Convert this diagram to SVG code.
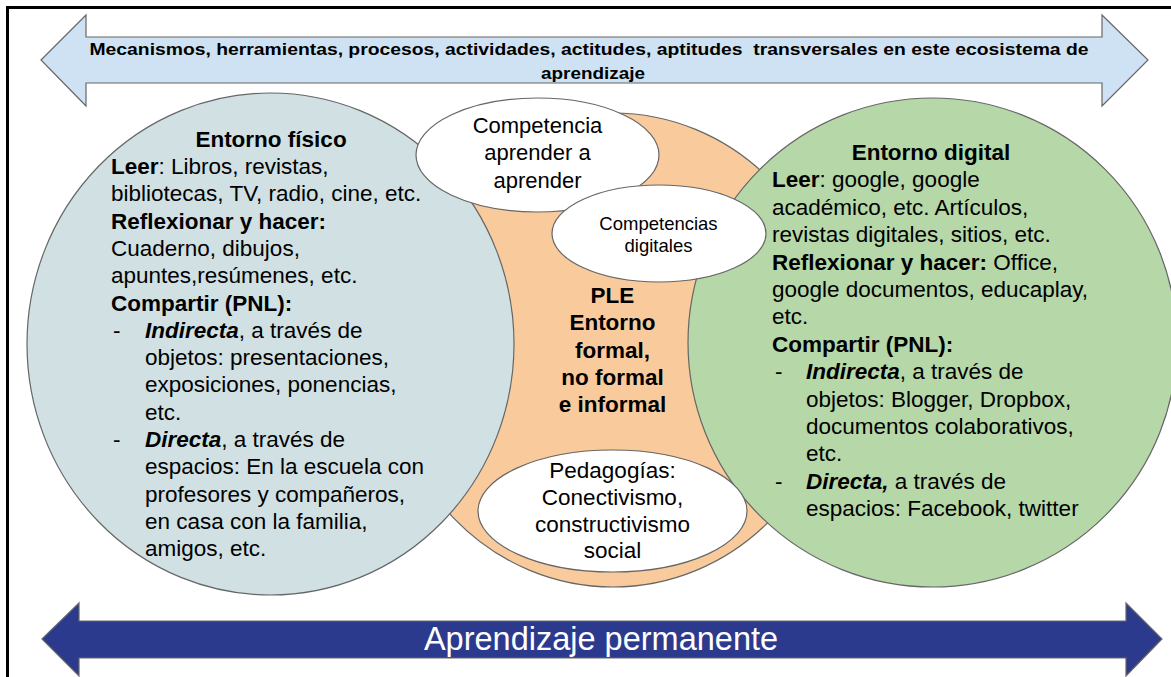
<svg xmlns="http://www.w3.org/2000/svg" width="1171" height="677" viewBox="0 0 1171 677">
<style>
.t{font-family:"Liberation Sans",Arial,sans-serif;font-size:22.5px;fill:#000}
.b{font-weight:bold}
.bi{font-weight:bold;font-style:italic}
.c{text-anchor:middle}
.sh{stroke:#666;stroke-width:1.2}
</style>
<rect width="1171" height="677" fill="#fff"/>
<path d="M7.5,677 V7.5 H1171" fill="none" stroke="#000" stroke-width="3"/>
<g id="top-arrow">
<polygon class="sh" fill="#cfe2f3" points="41,60 86,15 86,37 1102,37 1102,15 1148,60 1102,106 1102,83 86,83 86,106"/>
<text class="t b c" style="font-size:17px;white-space:pre" x="589" y="55" textLength="999" lengthAdjust="spacingAndGlyphs">Mecanismos, herramientas, procesos, actividades, actitudes, aptitudes  transversales en este ecosistema de</text>
<text class="t b c" style="font-size:17px" x="593" y="79" textLength="104" lengthAdjust="spacingAndGlyphs">aprendizaje</text>
</g>
<g id="ple">
<ellipse class="sh" fill="#f9cb9c" cx="613" cy="350" rx="226" ry="237"/>
</g>
<g id="entorno-fisico">
<ellipse class="sh" fill="#d0e0e3" cx="270.5" cy="344" rx="243.5" ry="251"/>
<text class="t b c" x="271" y="146.7">Entorno físico</text>
<text class="t" x="111" y="174"><tspan class="b">Leer</tspan>: Libros, revistas,</text>
<text class="t" x="111" y="201.3">bibliotecas, TV, radio, cine, etc.</text>
<text class="t b" x="111" y="228.6">Reflexionar y hacer:</text>
<text class="t" x="111" y="255.9">Cuaderno, dibujos,</text>
<text class="t" x="111" y="283.2">apuntes,resúmenes, etc.</text>
<text class="t b" x="111" y="310.5">Compartir (PNL):</text>
<text class="t" x="113" y="337.8">-</text>
<text class="t" x="145" y="337.8"><tspan class="bi">Indirecta</tspan>, a través de</text>
<text class="t" x="145" y="365.1">objetos: presentaciones,</text>
<text class="t" x="145" y="392.4">exposiciones, ponencias,</text>
<text class="t" x="145" y="419.7">etc.</text>
<text class="t" x="113" y="447">-</text>
<text class="t" x="145" y="447"><tspan class="bi">Directa</tspan>, a través de</text>
<text class="t" x="145" y="474.3">espacios: En la escuela con</text>
<text class="t" x="145" y="501.6">profesores y compañeros,</text>
<text class="t" x="145" y="528.9">en casa con la familia,</text>
<text class="t" x="145" y="556.2">amigos, etc.</text>
</g>
<g id="entorno-digital">
<ellipse class="sh" fill="#b6d7a8" cx="932.5" cy="342.5" rx="244.5" ry="244.5"/>
<text class="t b c" x="931" y="160">Entorno digital</text>
<text class="t" x="772" y="187.4"><tspan class="b">Leer</tspan>: google, google</text>
<text class="t" x="772" y="214.8">académico, etc. Artículos,</text>
<text class="t" x="772" y="242.2">revistas digitales, sitios, etc.</text>
<text class="t" x="772" y="269.6"><tspan class="b">Reflexionar y hacer:</tspan> Office,</text>
<text class="t" x="772" y="297">google documentos, educaplay,</text>
<text class="t" x="772" y="324.4">etc.</text>
<text class="t b" x="772" y="351.8">Compartir (PNL):</text>
<text class="t" x="775" y="379.2">-</text>
<text class="t" x="806" y="379.2"><tspan class="bi">Indirecta</tspan>, a través de</text>
<text class="t" x="806" y="406.6">objetos: Blogger, Dropbox,</text>
<text class="t" x="806" y="434">documentos colaborativos,</text>
<text class="t" x="806" y="461.4">etc.</text>
<text class="t" x="775" y="488.8">-</text>
<text class="t" x="806" y="488.8"><tspan class="bi">Directa,</tspan> a través de</text>
<text class="t" x="806" y="516.2">espacios: Facebook, twitter</text>
</g>
<g id="ple-label">
<text class="t b c" x="612.5" y="303">PLE</text>
<text class="t b c" x="612.5" y="330">Entorno</text>
<text class="t b c" x="612.5" y="357.5">formal,</text>
<text class="t b c" x="612.5" y="385">no formal</text>
<text class="t b c" x="612.5" y="412">e informal</text>
</g>
<g id="competencia-aprender">
<ellipse class="sh" fill="#fff" cx="537.5" cy="155" rx="121.5" ry="57"/>
<text class="t c" style="font-size:22px" x="537.5" y="132.5">Competencia</text>
<text class="t c" style="font-size:22px" x="537.5" y="160">aprender a</text>
<text class="t c" style="font-size:22px" x="537.5" y="187.5">aprender</text>
</g>
<g id="competencias-digitales">
<ellipse class="sh" fill="#fff" cx="659" cy="233.5" rx="107" ry="48.5"/>
<text class="t c" style="font-size:18.5px" x="658.5" y="229.5">Competencias</text>
<text class="t c" style="font-size:18.5px" x="658.5" y="252">digitales</text>
</g>
<g id="pedagogias">
<ellipse class="sh" fill="#fff" cx="612.5" cy="511" rx="134.5" ry="61"/>
<text class="t c" style="font-size:22.5px" x="612.5" y="478">Pedagogías:</text>
<text class="t c" style="font-size:22.5px" x="612.5" y="505">Conectivismo,</text>
<text class="t c" style="font-size:22.5px" x="612.5" y="531.7">constructivismo</text>
<text class="t c" style="font-size:22.5px" x="612.5" y="558">social</text>
</g>
<g id="bottom-arrow">
<polygon class="sh" fill="#2c3a8e" points="42,639 79,603 79,621 1126,621 1126,603 1162,639 1126,676 1126,658 79,658 79,676"/>
<text class="t c" style="font-size:32.5px;fill:#fff" x="601" y="650">Aprendizaje permanente</text>
</g>
<g id="connectors"/>
</svg>
